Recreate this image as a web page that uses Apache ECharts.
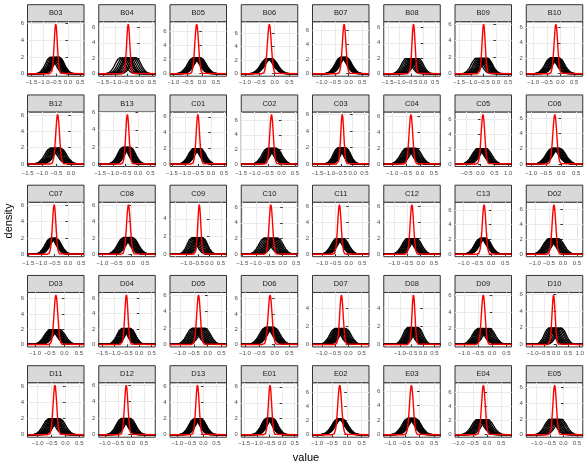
<!DOCTYPE html>
<html>
<head>
<meta charset="utf-8">
<script src="https://cdn.jsdelivr.net/npm/echarts@6/dist/echarts.min.js"></script>
<style>
html, body { margin: 0; padding: 0; background: #ffffff; }
#main { width: 588px; height: 469px; }
</style>
</head>
<body>
<div id="main"></div>
<script>
// facet names, row by row
var panelNames = ['B03','B04','B05','B06','B07','B08','B09','B10',
                  'B12','B13','C01','C02','C03','C04','C05','C06',
                  'C07','C08','C09','C10','C11','C12','C13','D02',
                  'D03','D04','D05','D06','D07','D08','D09','D10',
                  'D11','D12','D13','E01','E02','E03','E04','E05'];

// x limits of each panel (free scales)
var xLow  = [-1.66,-1.68,-1.12,-1.12,-1.34,-1.67,-1.67,-1.25,
             -1.51,-1.56,-1.57,-1.50,-1.71,-1.31,-0.92,-1.16,
             -1.53,-1.13,-1.71,-1.54,-1.36,-1.39,-1.31,-1.31,
             -1.26,-1.64,-1.36,-1.12,-1.35,-1.71,-1.32,-1.27,
             -1.37,-1.23,-1.29,-1.62,-1.16,-1.23,-1.13,-1.39];
var xHigh = [0.66,0.64,0.87,0.78,0.75,0.72,0.64,0.81,
             0.46,0.69,0.60,0.61,0.70,0.73,1.12,0.72,
             0.61,0.85,0.74,0.56,0.76,0.74,0.73,0.71,
             0.67,0.65,0.68,0.78,0.78,0.76,0.68,1.13,
             0.67,0.93,0.89,0.62,0.75,0.71,0.86,0.72];

// red curve: centre and peak height
var redCenter = [-0.50,-0.47,-0.18,-0.175,-0.17,-0.41,-0.50,-0.17,
                 -0.46,-0.42,-0.50,-0.37,-0.44,-0.33,0.09,-0.21,
                 -0.52,-0.09,-0.44,-0.44,-0.35,-0.33,-0.26,-0.32,
                 -0.29,-0.52,-0.33,-0.15,-0.26,-0.41,-0.32,-0.11,
                 -0.38,-0.18,-0.23,-0.48,-0.24,-0.28,-0.13,-0.33];
var redPeak = [5.9,6.4,7.0,7.3,6.8,6.4,6.0,6.4,
               6.1,5.8,6.3,6.8,6.0,6.2,6.6,6.5,
               6.1,6.1,5.6,6.3,6.2,6.2,6.7,6.6,
               6.5,6.4,6.0,6.5,5.5,5.5,6.1,5.9,
               6.1,6.0,6.1,6.2,7.0,6.8,7.0,6.3];

// black curves: peak height per panel and the centre of every curve
var blackPeak = [2.0,2.1,2.3,2.3,2.3,2.0,1.9,2.1,
                 2.0,2.0,2.0,2.2,2.0,2.0,2.1,2.1,
                 2.0,2.1,1.9,2.1,2.0,2.0,2.2,2.1,
                 2.0,2.1,2.0,2.3,1.8,1.9,2.0,2.0,
                 2.0,2.0,2.0,2.1,2.3,2.3,2.2,2.0];
var blackCenters = [
  [-0.72,-0.66,-0.60,-0.56,-0.52,-0.48,-0.45,-0.42,-0.38,-0.35],
  [-0.80,-0.70,-0.62,-0.55,-0.50,-0.45,-0.38,-0.30,-0.22,-0.15],
  [-0.30,-0.26,-0.22,-0.19,-0.16,-0.13,-0.10,-0.07,-0.05],
  [-0.26,-0.23,-0.20,-0.18,-0.16,-0.14,-0.12,-0.10],
  [-0.30,-0.27,-0.24,-0.21,-0.18,-0.15,-0.12,-0.09],
  [-0.72,-0.65,-0.58,-0.52,-0.47,-0.42,-0.37,-0.32,-0.26,-0.20],
  [-0.80,-0.72,-0.66,-0.60,-0.55,-0.50,-0.46,-0.42,-0.38,-0.34],
  [-0.36,-0.32,-0.28,-0.24,-0.20,-0.17,-0.14,-0.10,-0.06],
  [-0.70,-0.65,-0.60,-0.56,-0.52,-0.48,-0.44,-0.40,-0.36],
  [-0.60,-0.56,-0.52,-0.48,-0.45,-0.42,-0.38,-0.34,-0.30],
  [-0.66,-0.62,-0.58,-0.55,-0.52,-0.49,-0.46,-0.43,-0.40],
  [-0.52,-0.47,-0.43,-0.39,-0.35,-0.31,-0.27,-0.23,-0.19],
  [-0.62,-0.57,-0.53,-0.49,-0.45,-0.41,-0.37,-0.33,-0.29],
  [-0.50,-0.45,-0.41,-0.37,-0.33,-0.29,-0.25,-0.20,-0.15],
  [-0.10,-0.06,-0.02,0.02,0.05,0.08,0.11,0.15,0.20],
  [-0.30,-0.27,-0.24,-0.21,-0.18,-0.15,-0.12,-0.08,-0.05],
  [-0.66,-0.62,-0.59,-0.56,-0.53,-0.50,-0.48,-0.45],
  [-0.26,-0.22,-0.18,-0.14,-0.10,-0.06,-0.02,0.02,0.05],
  [-0.76,-0.70,-0.64,-0.58,-0.53,-0.48,-0.43,-0.38,-0.33,-0.29],
  [-0.68,-0.62,-0.56,-0.50,-0.45,-0.40,-0.35,-0.30,-0.25,-0.19],
  [-0.46,-0.42,-0.38,-0.35,-0.32,-0.29,-0.26,-0.23,-0.20],
  [-0.50,-0.46,-0.42,-0.38,-0.34,-0.30,-0.26,-0.21,-0.16],
  [-0.40,-0.37,-0.34,-0.31,-0.29,-0.27,-0.25,-0.22,-0.20],
  [-0.50,-0.46,-0.42,-0.38,-0.34,-0.30,-0.26,-0.21,-0.16],
  [-0.48,-0.44,-0.40,-0.36,-0.33,-0.30,-0.26,-0.22,-0.17],
  [-0.70,-0.66,-0.62,-0.58,-0.54,-0.50,-0.46,-0.42,-0.38,-0.35],
  [-0.55,-0.50,-0.45,-0.40,-0.35,-0.30,-0.25,-0.20,-0.15,-0.10],
  [-0.30,-0.26,-0.22,-0.19,-0.16,-0.13,-0.10,-0.06,-0.02],
  [-0.50,-0.45,-0.40,-0.36,-0.32,-0.28,-0.24,-0.20,-0.15,-0.10],
  [-0.66,-0.60,-0.55,-0.50,-0.46,-0.42,-0.37,-0.32,-0.26,-0.20],
  [-0.50,-0.45,-0.41,-0.37,-0.33,-0.29,-0.25,-0.20,-0.15,-0.10],
  [-0.30,-0.24,-0.18,-0.13,-0.08,-0.03,0.03,0.10,0.16,0.22],
  [-0.60,-0.55,-0.50,-0.46,-0.42,-0.38,-0.34,-0.30,-0.25,-0.20],
  [-0.36,-0.32,-0.28,-0.24,-0.20,-0.17,-0.14,-0.10,-0.06,-0.02],
  [-0.36,-0.33,-0.30,-0.27,-0.24,-0.21,-0.18,-0.15,-0.12,-0.09],
  [-0.62,-0.58,-0.55,-0.52,-0.49,-0.46,-0.43,-0.40,-0.37],
  [-0.30,-0.28,-0.26,-0.24,-0.22,-0.20,-0.18,-0.16],
  [-0.40,-0.36,-0.33,-0.30,-0.27,-0.24,-0.21,-0.18,-0.15],
  [-0.34,-0.29,-0.25,-0.21,-0.17,-0.13,-0.09,-0.04,0.02],
  [-0.50,-0.45,-0.40,-0.35,-0.30,-0.25,-0.20,-0.14,-0.08]
];

// curve profiles: [distance from centre, share of peak]
var blackShape = [[0,1],[0.05,0.97],[0.1,0.88],[0.15,0.755],[0.2,0.61],[0.25,0.46],
                  [0.3,0.325],[0.35,0.215],[0.4,0.135],[0.45,0.08],[0.5,0.044],
                  [0.55,0.023],[0.6,0.011],[0.65,0.005],[0.7,0.002],[0.8,0]];
var redShape = [[0,1],[0.02,0.955],[0.04,0.83],[0.06,0.66],[0.08,0.48],[0.1,0.32],
                [0.12,0.19],[0.14,0.105],[0.16,0.053],[0.18,0.024],[0.2,0.01],
                [0.22,0.004],[0.26,0]];

var FONT = '"Liberation Sans", Arial, sans-serif';

function curve(center, peak, shape, lo, hi) {
  var pts = [[lo, 0]];
  var i, x;
  for (i = shape.length - 1; i > 0; i--) {
    x = center - shape[i][0];
    if (x > lo && x < hi) pts.push([x, peak * shape[i][1]]);
  }
  for (i = 0; i < shape.length; i++) {
    x = center + shape[i][0];
    if (x > lo && x < hi) pts.push([x, peak * shape[i][1]]);
  }
  pts.push([hi, 0]);
  return pts;
}

function ticksIn(lo, hi, step) {
  var out = [];
  for (var v = Math.ceil(lo / step) * step; v <= hi + 1e-9; v += step) {
    out.push(Math.round(v * 100) / 100);
  }
  return out;
}

function fmtX(v) {
  var s = Math.abs(v).toFixed(1);
  return v < -1e-9 ? '\u2212' + s : s;
}

function buildOption() {
  var grids = [], xAxes = [], yAxes = [], seriesList = [], graphics = [];
  var panelW = 56.5, stripH = 17, plotH = 54.5;

  for (var p = 0; p < panelNames.length; p++) {
    var row = Math.floor(p / 8), col = p % 8;
    var panelLeft = 27.5 + col * 71.25;
    var stripTop = 4.7 + row * 90.25;
    var plotTop = stripTop + stripH;
    var lo = xLow[p], hi = xHigh[p];
    var yLo = -0.05 * redPeak[p], yHi = 1.05 * redPeak[p];

    grids.push({ left: panelLeft, top: plotTop, width: panelW, height: plotH, show: true,
                 backgroundColor: '#ffffff', borderColor: '#333333', borderWidth: 1,
                 outerBoundsMode: 'none' });

    var xMaj = ticksIn(lo, hi, 0.5);
    var yMaj = ticksIn(0, yHi, 2);

    xAxes.push({
      gridIndex: p, type: 'value', min: lo, max: hi, position: 'bottom',
      axisLine: { show: false },
      axisTick: { show: true, customValues: xMaj, length: 2.5, lineStyle: { color: '#333333', width: 1 } },
      axisLabel: { customValues: xMaj, formatter: fmtX, fontSize: 6, color: '#4D4D4D', margin: 3.5, fontFamily: FONT },
      splitLine: { show: true, lineStyle: { color: '#EBEBEB', width: 1 } }
    });
    yAxes.push({
      gridIndex: p, type: 'value', min: yLo, max: yHi, position: 'left',
      axisLine: { show: false },
      axisTick: { show: true, customValues: yMaj, length: 2.5, lineStyle: { color: '#333333', width: 1 } },
      axisLabel: { customValues: yMaj, fontSize: 6, color: '#4D4D4D', margin: 3.5, fontFamily: FONT },
      splitLine: { show: true, lineStyle: { color: '#EBEBEB', width: 1 } }
    });

    var bc = blackCenters[p];
    for (var k = 0; k < bc.length; k++) {
      seriesList.push({
        type: 'line', xAxisIndex: p, yAxisIndex: p, symbol: 'none', silent: true,
        data: curve(bc[k], blackPeak[p], blackShape, lo, hi),
        lineStyle: { color: '#000000', width: 1.3 }, z: 3
      });
    }
    seriesList.push({
      type: 'line', xAxisIndex: p, yAxisIndex: p, symbol: 'none', silent: true,
      data: curve(redCenter[p], redPeak[p], redShape, lo, hi),
      lineStyle: { color: '#FF0000', width: 1.4 }, z: 4
    });

    graphics.push({
      type: 'rect', shape: { x: panelLeft, y: stripTop, width: panelW, height: stripH },
      style: { fill: '#D9D9D9', stroke: '#333333', lineWidth: 1 }
    });
    graphics.push({
      type: 'text', x: panelLeft + panelW / 2, y: stripTop + stripH / 2,
      style: { text: panelNames[p], fill: '#1A1A1A', font: '7.5px ' + FONT,
               textAlign: 'center', textVerticalAlign: 'middle' }
    });
  }

  graphics.push({
    type: 'text', x: 306, y: 458,
    style: { text: 'value', fill: '#000000', font: '11px ' + FONT, textAlign: 'center', textVerticalAlign: 'middle' }
  });
  graphics.push({
    type: 'text', x: 9, y: 221, rotation: Math.PI / 2,
    style: { text: 'density', fill: '#000000', font: '11px ' + FONT, textAlign: 'center', textVerticalAlign: 'middle' }
  });

  return {
    backgroundColor: '#ffffff',
    animation: false,
    grid: grids,
    xAxis: xAxes,
    yAxis: yAxes,
    series: seriesList,
    graphic: { elements: graphics }
  };
}

var chart = echarts.init(document.getElementById('main'));
chart.setOption(buildOption());
</script>
</body>
</html>
